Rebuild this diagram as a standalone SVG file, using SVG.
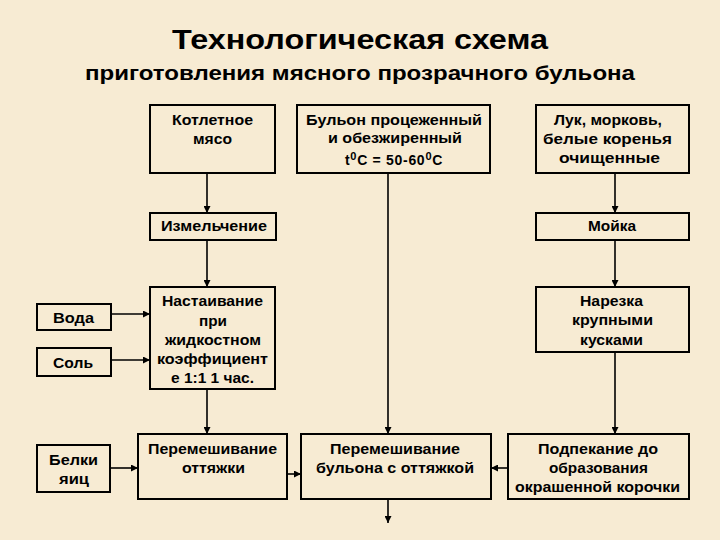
<svg xmlns="http://www.w3.org/2000/svg" width="720" height="540" viewBox="0 0 720 540">
<defs>
<marker id="ah" viewBox="0 0 10 10" refX="10" refY="5" markerWidth="7" markerHeight="7" markerUnits="userSpaceOnUse" orient="auto">
<path d="M0,0 L10,5 L0,10 z" fill="#000"/>
</marker>
<style>
.box{fill:none;stroke:#000;stroke-width:2}
.t{font-family:"Liberation Sans",Arial,sans-serif;font-weight:bold;font-size:14px;fill:#000;text-anchor:middle}
.c{fill:none;stroke:#000;stroke-width:1.6;marker-end:url(#ah)}
.h{font-family:"Liberation Sans",Arial,sans-serif;font-weight:bold;fill:#000;text-anchor:middle}
</style>
</defs>
<rect width="720" height="540" fill="#f7ebd3"/>
<g id="title">
<text class="h" x="360" y="49" font-size="28" textLength="376" lengthAdjust="spacingAndGlyphs">Технологическая схема</text>
<text class="h" x="360" y="80" font-size="20" textLength="550" lengthAdjust="spacingAndGlyphs">приготовления мясного прозрачного бульона</text>
</g>
<g id="connectors">
<line class="c" x1="207" y1="173" x2="207" y2="213"/>
<line class="c" x1="207" y1="240" x2="207" y2="287"/>
<line class="c" x1="207" y1="389" x2="207" y2="434"/>
<line class="c" x1="111" y1="314" x2="150" y2="314"/>
<line class="c" x1="111" y1="360" x2="150" y2="360"/>
<line class="c" x1="110" y1="468" x2="138" y2="468"/>
<line class="c" x1="288" y1="474" x2="301" y2="474"/>
<line class="c" x1="388" y1="173" x2="388" y2="434"/>
<line class="c" x1="615" y1="173" x2="615" y2="213"/>
<line class="c" x1="615" y1="240" x2="615" y2="287"/>
<line class="c" x1="615" y1="352" x2="615" y2="434"/>
<line class="c" x1="508" y1="468" x2="491" y2="468"/>
<line class="c" x1="388" y1="499" x2="388" y2="523"/>
</g>
<g id="n-kotlet">
<rect class="box" x="150" y="105" width="125" height="68"/>
<text class="t" x="212.5" y="125" textLength="81" lengthAdjust="spacingAndGlyphs">Котлетное</text>
<text class="t" x="212.5" y="144" textLength="39" lengthAdjust="spacingAndGlyphs">мясо</text>
</g>
<g id="n-bulon">
<rect class="box" x="297" y="105" width="193" height="68"/>
<text class="t" x="394" y="125" textLength="176" lengthAdjust="spacingAndGlyphs">Бульон процеженный</text>
<text class="t" x="395" y="143" textLength="134" lengthAdjust="spacingAndGlyphs">и обезжиренный</text>
<text class="t" x="394" y="165" letter-spacing="0.7">t<tspan font-size="11" dy="-5">0</tspan><tspan dy="5">C = 50-60</tspan><tspan font-size="11" dy="-5">0</tspan><tspan dy="5">C</tspan></text>
</g>
<g id="n-luk">
<rect class="box" x="536" y="105" width="153" height="68"/>
<text class="t" x="608" y="125" textLength="108" lengthAdjust="spacingAndGlyphs">Лук, морковь,</text>
<text class="t" x="607.5" y="144" textLength="129" lengthAdjust="spacingAndGlyphs">белые коренья</text>
<text class="t" x="609.5" y="163" textLength="101" lengthAdjust="spacingAndGlyphs">очищенные</text>
</g>
<g id="n-izmel">
<rect class="box" x="150" y="213" width="126" height="27"/>
<text class="t" x="214" y="231" textLength="106" lengthAdjust="spacingAndGlyphs">Измельчение</text>
</g>
<g id="n-moika">
<rect class="box" x="536" y="213" width="153" height="27"/>
<text class="t" x="612" y="231" textLength="48" lengthAdjust="spacingAndGlyphs">Мойка</text>
</g>
<g id="n-nastaiv">
<rect class="box" x="150" y="287" width="125" height="102"/>
<text class="t" x="212.5" y="306" textLength="101" lengthAdjust="spacingAndGlyphs">Настаивание</text>
<text class="t" x="213" y="326" textLength="28" lengthAdjust="spacingAndGlyphs">при</text>
<text class="t" x="213" y="345" textLength="96" lengthAdjust="spacingAndGlyphs">жидкостном</text>
<text class="t" x="212.5" y="364" textLength="111" lengthAdjust="spacingAndGlyphs">коэффициент</text>
<text class="t" x="212.5" y="383" textLength="83" lengthAdjust="spacingAndGlyphs">е 1:1 1 час.</text>
</g>
<g id="n-voda">
<rect class="box" x="37" y="304" width="74" height="26"/>
<text class="t" x="73.5" y="323" textLength="41" lengthAdjust="spacingAndGlyphs">Вода</text>
</g>
<g id="n-sol">
<rect class="box" x="37" y="348" width="74" height="28"/>
<text class="t" x="73" y="368" textLength="40" lengthAdjust="spacingAndGlyphs">Соль</text>
</g>
<g id="n-narezka">
<rect class="box" x="536" y="287" width="153" height="65"/>
<text class="t" x="611.5" y="306" textLength="63" lengthAdjust="spacingAndGlyphs">Нарезка</text>
<text class="t" x="612.5" y="325" textLength="81" lengthAdjust="spacingAndGlyphs">крупными</text>
<text class="t" x="611.5" y="345" textLength="63" lengthAdjust="spacingAndGlyphs">кусками</text>
</g>
<g id="n-belki">
<rect class="box" x="37" y="445" width="73" height="47" stroke-width="1.6"/>
<text class="t" x="73.5" y="465" textLength="49" lengthAdjust="spacingAndGlyphs">Белки</text>
<text class="t" x="74" y="484" textLength="30" lengthAdjust="spacingAndGlyphs">яиц</text>
</g>
<g id="n-ottyazhka">
<rect class="box" x="138" y="434" width="149" height="65"/>
<text class="t" x="212.5" y="454" textLength="129" lengthAdjust="spacingAndGlyphs">Перемешивание</text>
<text class="t" x="213.5" y="473" textLength="63" lengthAdjust="spacingAndGlyphs">оттяжки</text>
</g>
<g id="n-mix">
<rect class="box" x="301" y="434" width="190" height="65"/>
<text class="t" x="395" y="454" textLength="130" lengthAdjust="spacingAndGlyphs">Перемешивание</text>
<text class="t" x="395" y="473" textLength="158" lengthAdjust="spacingAndGlyphs">бульона с оттяжкой</text>
</g>
<g id="n-podpek">
<rect class="box" x="508" y="434" width="181" height="65"/>
<text class="t" x="598" y="454" textLength="120" lengthAdjust="spacingAndGlyphs">Подпекание до</text>
<text class="t" x="598.5" y="473" textLength="99" lengthAdjust="spacingAndGlyphs">образования</text>
<text class="t" x="597.5" y="492" textLength="165" lengthAdjust="spacingAndGlyphs">окрашенной корочки</text>
</g>
</svg>
